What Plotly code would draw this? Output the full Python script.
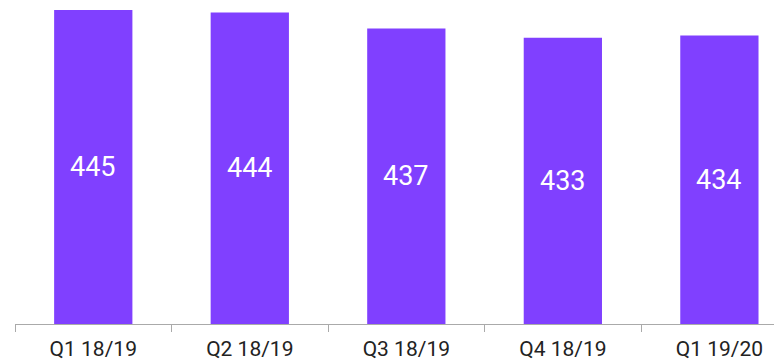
import plotly.graph_objects as go

categories = ["Q1 18/19", "Q2 18/19", "Q3 18/19", "Q4 18/19", "Q1 19/20"]
values = [445, 444, 437, 433, 434]
value_labels = ["445", "444", "437", "433", "434"]

Y_MIN = 309.2
Y_MAX = 445.9

fig = go.Figure()
fig.add_trace(go.Bar(
    x=categories,
    y=values,
    marker=dict(color="#8040FF", line=dict(width=0)),
    hoverinfo="x+y",
))

# labels centred in the visible part of each bar
for cat, v, lab in zip(categories, values, value_labels):
    fig.add_annotation(
        x=cat,
        y=(Y_MIN + v) / 2,
        text=lab,
        showarrow=False,
        xanchor="center",
        yanchor="middle",
        yshift=0,
        font=dict(color="white", size=27, family="Roboto"),
    )

fig.update_layout(
    width=774,
    height=353,
    margin=dict(l=7, r=0, t=0, b=37),
    paper_bgcolor="white",
    plot_bgcolor="white",
    bargap=0.5,
    showlegend=False,
    font=dict(family="Roboto", color="#222222"),
)
fig.update_xaxes(
    range=[-0.5, 4.4],
    showline=True,
    linecolor="#aaaaaa",
    linewidth=1,
    ticks="outside",
    tickson="boundaries",
    ticklen=7,
    tickcolor="#aaaaaa",
    ticklabelstandoff=6,
    tickfont=dict(size=21, family="Roboto", color="#222222"),
    showgrid=False,
    zeroline=False,
)
fig.update_yaxes(
    range=[Y_MIN, Y_MAX],
    visible=False,
    showgrid=False,
    zeroline=False,
)

fig.write_html("out.html")
